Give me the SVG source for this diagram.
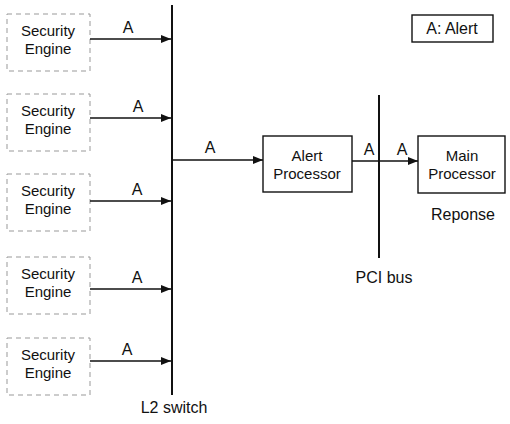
<svg xmlns="http://www.w3.org/2000/svg" width="510" height="424" viewBox="0 0 510 424">
<style>
text{font-family:"Liberation Sans",Arial,sans-serif;font-size:16px;fill:#111;text-anchor:middle}
text.two{font-size:15px}
.se{fill:none;stroke:#999;stroke-width:1;stroke-dasharray:5 4}
.box{fill:#fff;stroke:#111;stroke-width:1.4}
.bus{stroke:#111;stroke-width:2}
.ln{stroke:#111;stroke-width:1.5;fill:none;marker-end:url(#ah)}
</style>
<defs>
<marker id="ah" viewBox="0 0 10 8" refX="10" refY="4" markerWidth="10" markerHeight="8" markerUnits="userSpaceOnUse" orient="auto">
<path d="M0,0 L10,4 L0,8 z" fill="#111"/>
</marker>
</defs>
<g id="se1"><rect class="se" x="7" y="14" width="83" height="57"/><text class="two" x="48" y="36">Security</text><text class="two" x="48" y="54">Engine</text></g>
<g id="se2"><rect class="se" x="7" y="94" width="83" height="57"/><text class="two" x="48" y="116">Security</text><text class="two" x="48" y="134">Engine</text></g>
<g id="se3"><rect class="se" x="7" y="174" width="83" height="57"/><text class="two" x="48" y="196">Security</text><text class="two" x="48" y="214">Engine</text></g>
<g id="se4"><rect class="se" x="7" y="257" width="83" height="57"/><text class="two" x="48" y="279">Security</text><text class="two" x="48" y="297">Engine</text></g>
<g id="se5"><rect class="se" x="7" y="338" width="83" height="57"/><text class="two" x="48" y="360">Security</text><text class="two" x="48" y="378">Engine</text></g>
<g id="l2switch"><line class="bus" x1="172" y1="5" x2="172" y2="395"/><text x="174" y="413">L2 switch</text></g>
<g id="pcibus"><line class="bus" x1="379" y1="95" x2="379" y2="258"/><text x="384" y="283">PCI bus</text></g>
<g id="alertproc"><rect class="box" x="263" y="136" width="89" height="56"/><text class="two" x="307" y="161">Alert</text><text class="two" x="307" y="179">Processor</text></g>
<g id="mainproc"><rect class="box" x="418" y="136" width="87" height="57"/><text class="two" x="462" y="161">Main</text><text class="two" x="462" y="179">Processor</text><text x="463" y="220">Reponse</text></g>
<g id="legend"><rect class="box" x="412" y="15" width="81" height="27"/><text x="452" y="34">A: Alert</text></g>
<g id="connectors">
<line class="ln" x1="90" y1="39" x2="171" y2="39"/>
<line class="ln" x1="90" y1="118" x2="171" y2="118"/>
<line class="ln" x1="90" y1="201" x2="171" y2="201"/>
<line class="ln" x1="90" y1="289" x2="171" y2="289"/>
<line class="ln" x1="90" y1="361" x2="171" y2="361"/>
<line class="ln" x1="172" y1="160" x2="263" y2="160"/>
<line class="ln" x1="352" y1="161" x2="418" y2="161"/>
<text x="128" y="33">A</text>
<text x="138" y="112">A</text>
<text x="137" y="195">A</text>
<text x="137" y="283">A</text>
<text x="127" y="355">A</text>
<text x="210" y="153">A</text>
<text x="369" y="155">A</text>
<text x="402" y="155">A</text>
</g>
</svg>
